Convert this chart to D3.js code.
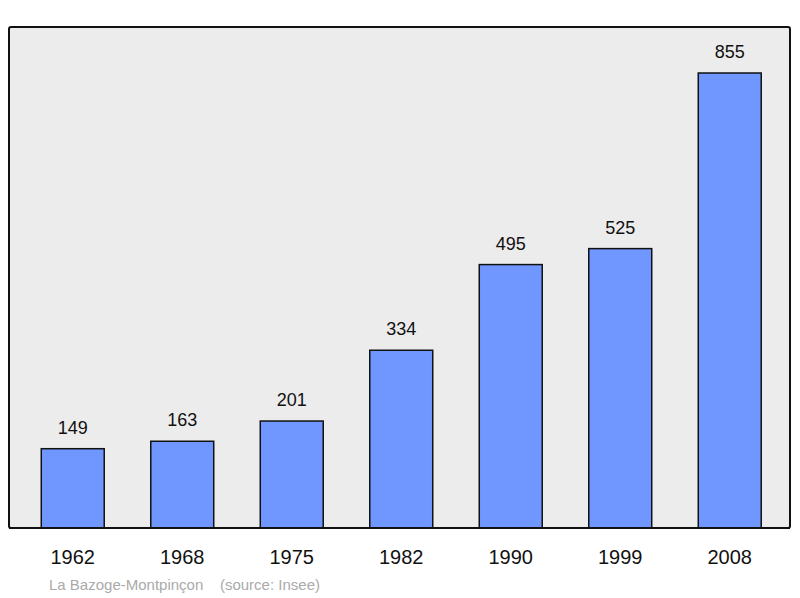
<!DOCTYPE html>
<html>
<head>
<meta charset="UTF-8">
<script src="https://d3js.org/d3.v7.min.js"></script>
<style>
  body { margin: 0; background: #fff; }
  svg { display: block; font-family: "Liberation Sans", Arial, sans-serif; }
</style>
</head>
<body>
<svg id="chart" width="800" height="598"></svg>
<script>
// data
const years = ["1962", "1968", "1975", "1982", "1990", "1999", "2008"];
const population = [149, 163, 201, 334, 495, 525, 855];
const caption = "La Bazoge-Montpinçon    (source: Insee)";

const svg = d3.select("#chart");
const plot = { left: 9, right: 790, top: 27, bottom: 528 };

svg.append("rect")
  .attr("x", plot.left).attr("y", plot.top)
  .attr("width", plot.right - plot.left).attr("height", plot.bottom - plot.top)
  .attr("rx", 2)
  .attr("fill", "#ececec").attr("stroke", "#111").attr("stroke-width", 2);

const x = d3.scaleBand().domain(years).range([18, 784.5])
  .paddingInner(0.425).paddingOuter(0.2125);
const y = d3.scaleLinear().domain([0, 855]).range([plot.bottom, 73]);

const data = years.map((yr, i) => ({ yr, v: population[i] }));

svg.selectAll(".bar").data(data).join("rect")
  .attr("class", "bar")
  .attr("x", d => x(d.yr)).attr("y", d => y(d.v))
  .attr("width", x.bandwidth()).attr("height", d => y(0) - y(d.v))
  .attr("fill", "#6f97ff").attr("stroke", "#111").attr("stroke-width", 1.5);

svg.selectAll(".val").data(data).join("text")
  .attr("x", d => x(d.yr) + x.bandwidth() / 2).attr("y", d => y(d.v) - 15)
  .attr("text-anchor", "middle").attr("font-size", 18).attr("fill", "#111")
  .text(d => d.v);

// re-draw bottom border over bars
svg.append("line").attr("x1", plot.left).attr("x2", plot.right)
  .attr("y1", plot.bottom).attr("y2", plot.bottom)
  .attr("stroke", "#111").attr("stroke-width", 2);

svg.selectAll(".yr").data(years).join("text")
  .attr("x", d => x(d) + x.bandwidth() / 2).attr("y", 564)
  .attr("text-anchor", "middle").attr("font-size", 20).attr("fill", "#111")
  .text(d => d);

svg.append("text").attr("x", 49).attr("y", 590)
  .attr("font-size", 15).attr("fill", "#aaa")
  .attr("xml:space", "preserve").style("white-space", "pre")
  .text(caption);
</script>
</body>
</html>
